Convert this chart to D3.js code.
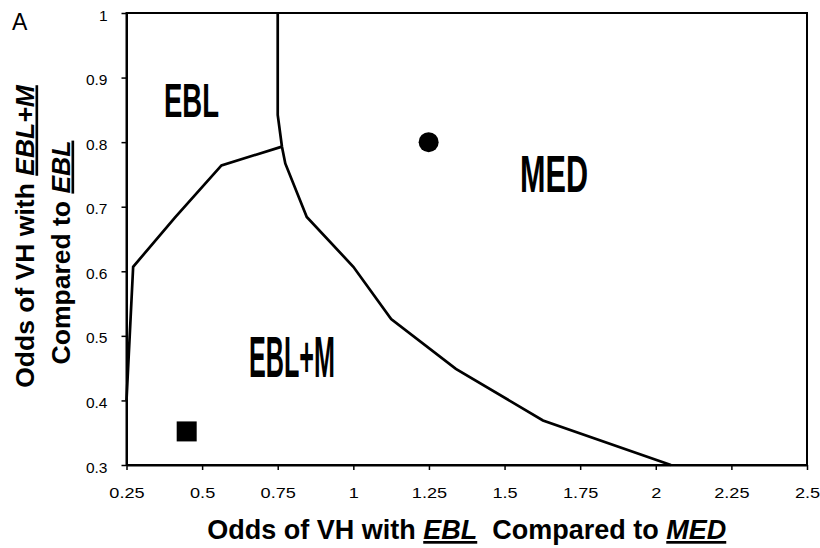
<!DOCTYPE html>
<html>
<head>
<meta charset="utf-8">
<script src="https://cdn.jsdelivr.net/npm/d3@7"></script>
<style>
  html, body { margin: 0; padding: 0; background: #fff; }
  svg { display: block; font-family: "Liberation Sans", Arial, Helvetica, sans-serif; }
</style>
</head>
<body>
<svg id="chart" width="820" height="548"></svg>
<script>
// ---- data ----
const xTicks = [0.25, 0.5, 0.75, 1, 1.25, 1.5, 1.75, 2, 2.25, 2.5];
const xTickLabels = ["0.25", "0.5", "0.75", "1", "1.25", "1.5", "1.75", "2", "2.25", "2.5"];
const yTicks = [0.3, 0.4, 0.5, 0.6, 0.7, 0.8, 0.9, 1];
const yTickLabels = ["0.3", "0.4", "0.5", "0.6", "0.7", "0.8", "0.9", "1"];

// boundary between MED and the other regions
const medBoundaryX = [0.75, 0.75, 0.764, 0.775, 0.846, 1.0, 1.125, 1.339, 1.627, 2.05];
const medBoundaryY = [1.0, 0.842, 0.793, 0.767, 0.684, 0.607, 0.526, 0.449, 0.369, 0.3];
// boundary between EBL and EBL+M
const eblBoundaryX = [0.764, 0.564, 0.41, 0.272, 0.25];
const eblBoundaryY = [0.793, 0.764, 0.683, 0.607, 0.4];

const squarePoint = [0.449, 0.352];
const circlePoint = [1.249, 0.8];

const regionNames = ["EBL", "MED", "EBL+M"];

// ---- chart ----
const svg = d3.select("#chart");
const x = d3.scaleLinear().domain([0.25, 2.5]).range([126.5, 807]);
const y = d3.scaleLinear().domain([0.3, 1]).range([465, 13]);

// frame
svg.append("rect")
  .attr("x", x(0.25)).attr("y", y(1))
  .attr("width", x(2.5) - x(0.25)).attr("height", y(0.3) - y(1))
  .attr("fill", "none").attr("stroke", "#000").attr("stroke-width", 2);

// x axis
const gx = svg.append("g").attr("transform", `translate(0,${y(0.3)})`)
  .call(d3.axisBottom(x).tickValues(xTicks).tickFormat((d, i) => xTickLabels[i]).tickSize(5).tickSizeOuter(0));
gx.select(".domain").attr("stroke-width", 2);
gx.selectAll(".tick line").attr("stroke-width", 1.5);
gx.selectAll(".tick text")
  .attr("y", 22).attr("dy", "0.71em")
  .attr("font-size", 15.5).attr("fill", "#000")
  .attr("font-family", "'Liberation Sans', Arial, sans-serif")
  .attr("transform", "scale(1.17,1)");

// y axis
const gy = svg.append("g").attr("transform", `translate(${x(0.25)},0)`)
  .call(d3.axisLeft(y).tickValues(yTicks).tickFormat((d, i) => yTickLabels[i]).tickSize(5).tickSizeOuter(0));
gy.select(".domain").attr("stroke-width", 2);
gy.selectAll(".tick line").attr("stroke-width", 1.5);
gy.selectAll(".tick text")
  .attr("x", -19).attr("dy", "0.46em")
  .attr("font-size", 15.5).attr("fill", "#000")
  .attr("font-family", "'Liberation Sans', Arial, sans-serif");

// boundary lines
const line = d3.line().x(d => x(d[0])).y(d => y(d[1]));
const medPts = medBoundaryX.map((v, i) => [v, medBoundaryY[i]]);
const eblPts = eblBoundaryX.map((v, i) => [v, eblBoundaryY[i]]);
[medPts, eblPts].forEach(pts => {
  svg.append("path").attr("d", line(pts))
    .attr("fill", "none").attr("stroke", "#000").attr("stroke-width", 2.7)
    .attr("stroke-linejoin", "miter");
});

// markers
const sq = 20;
svg.append("rect")
  .attr("x", x(squarePoint[0]) - sq / 2).attr("y", y(squarePoint[1]) - sq / 2)
  .attr("width", sq).attr("height", sq).attr("fill", "#000");
svg.append("circle")
  .attr("cx", x(circlePoint[0])).attr("cy", y(circlePoint[1]))
  .attr("r", 10).attr("fill", "#000");

// region labels (condensed bold)
const labelSpecs = [
  { text: regionNames[0], x: 164, base: 117, size: 47.5, w: 55 },
  { text: regionNames[1], x: 520, base: 191.7, size: 51, w: 68 },
  { text: regionNames[2], x: 249, base: 376.7, size: 58, w: 86 }
];
labelSpecs.forEach(s => {
  svg.append("text")
    .attr("x", s.x).attr("y", s.base)
    .attr("font-family", "'Liberation Sans Narrow', 'Liberation Sans', Arial, sans-serif")
    .attr("font-weight", "bold")
    .attr("font-size", s.size)
    .attr("textLength", s.w)
    .attr("lengthAdjust", "spacingAndGlyphs")
    .attr("fill", "#000")
    .text(s.text);
});

// panel letter
svg.append("text").attr("x", 12).attr("y", 29.5)
  .attr("font-size", 23).attr("fill", "#000").text("A");

// x axis title
const xt = svg.append("text")
  .attr("x", (x(0.25) + x(2.5)) / 2).attr("y", 539)
  .attr("text-anchor", "middle")
  .attr("font-size", 27).attr("font-weight", "bold").attr("fill", "#000");
xt.append("tspan").text("Odds of VH with ");
xt.append("tspan").attr("font-style", "italic").attr("text-decoration", "underline").text("EBL");
xt.append("tspan").text("\u00a0 Compared to ");
xt.append("tspan").attr("font-style", "italic").attr("text-decoration", "underline").text("MED");

// y axis title (two lines)
const yt1 = svg.append("text")
  .attr("transform", "translate(33.5,236.5) rotate(-90)")
  .attr("text-anchor", "middle")
  .attr("font-size", 26.5).attr("font-weight", "bold").attr("fill", "#000");
yt1.append("tspan").text("Odds of VH with ");
yt1.append("tspan").attr("font-style", "italic").attr("text-decoration", "underline").text("EBL+M");

const yt2 = svg.append("text")
  .attr("transform", "translate(69.5,252.5) rotate(-90)")
  .attr("text-anchor", "middle")
  .attr("font-size", 26.5).attr("font-weight", "bold").attr("fill", "#000");
yt2.append("tspan").text("Compared to ");
yt2.append("tspan").attr("font-style", "italic").attr("text-decoration", "underline").text("EBL");
</script>
</body>
</html>
